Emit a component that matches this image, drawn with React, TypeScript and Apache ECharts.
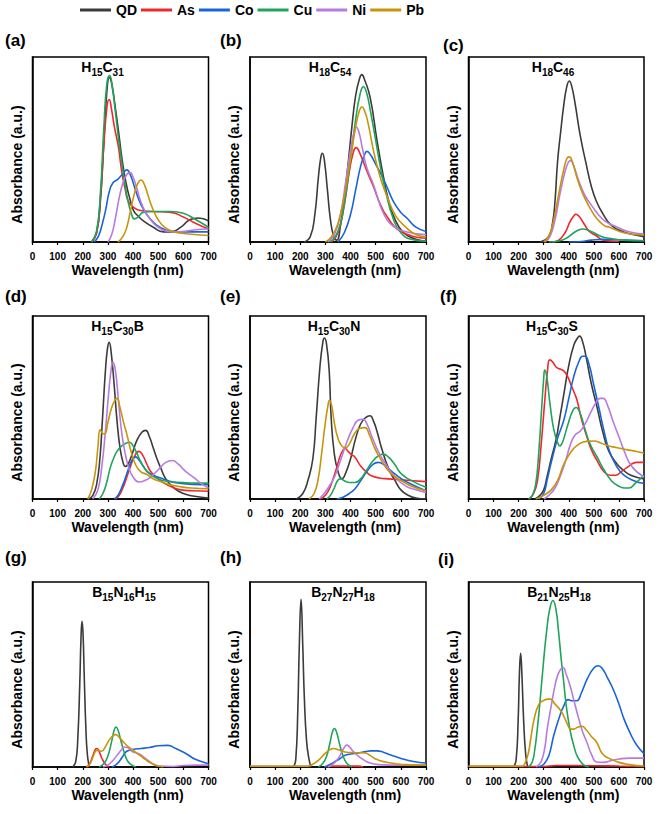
import React, { useEffect, useRef } from 'react';
import * as echarts from 'echarts';

const seriesNames = ['QD', 'As', 'Co', 'Cu', 'Ni', 'Pb'];
const seriesColors = ['#3b3b3b', '#f0282d', '#1a64d8', '#20a35c', '#b77be0', '#c8940b'];
const panelLabels = ['(a)', '(b)', '(c)', '(d)', '(e)', '(f)', '(g)', '(h)', '(i)'];
const panelFormulas = [
  [['H', '15'], ['C', '31']],
  [['H', '18'], ['C', '54']],
  [['H', '18'], ['C', '46']],
  [['H', '15'], ['C', '30'], ['B', '']],
  [['H', '15'], ['C', '30'], ['N', '']],
  [['H', '15'], ['C', '30'], ['S', '']],
  [['B', '15'], ['N', '16'], ['H', '15']],
  [['B', '27'], ['N', '27'], ['H', '18']],
  [['B', '21'], ['N', '25'], ['H', '18']],
];
const xMin = 0;
const xMax = 700;
const xStep = 100;
const xName = 'Wavelength (nm)';
const yName = 'Absorbance (a.u.)';

// ---- (a) H15C31 ----
const aQD = [[235,0],[255,5],[270,22],[283,52],[295,80],[306,89],[316,85],[328,74],[342,60],[356,45],[372,32],[388,23],[402,17],[420,14],[445,11],[480,8],[520,5.5],[550,5.5],[590,8],[625,12],[660,13],[700,11.5]];
const aAs = [[235,0],[255,5],[270,24],[285,55],[297,74],[305,77],[314,72],[326,62],[341,52],[355,38],[368,29],[381,22],[400,19],[430,17],[480,16.5],[550,16],[600,13.5],[650,10],[700,7]];
const aCo = [[245,0],[262,3],[278,10],[292,18],[305,27],[320,32],[340,34],[360,37],[375,39],[390,36],[405,30],[420,24],[440,18],[465,13],[495,9],[530,6.5],[570,5.5],[640,5.5],[700,5.5]];
const aCu = [[235,0],[255,6],[270,26],[283,60],[296,86],[307,90],[318,83],[330,70],[342,56],[356,42],[368,31],[380,22],[392,16],[405,12.5],[420,13.5],[440,16],[480,16.5],[550,16.5],[600,15.5],[650,12],[700,8]];
const aNi = [[300,0],[315,4],[330,13],[345,24],[360,32],[375,36.5],[388,37.5],[400,35],[415,29],[430,22],[450,16],[470,12],[495,8.5],[530,6],[580,5.5],[640,6.5],[700,7]];
const aPb = [[340,0],[360,3],[375,8],[390,17],[405,26],[420,32],[432,33.5],[445,31],[460,25],[478,18],[500,12],[525,8],[560,5.5],[610,4.5],[700,3.5]];

// ---- (b) H18C54 ----
const bQD = [[215,0],[240,3],[258,15],[272,35],[282,46],[288,48],[296,44],[308,28],[320,12],[333,3],[345,1],[360,9],[375,24],[390,42],[405,62],[420,79],[435,88],[445,90.5],[455,88],[478,78],[505,55],[531,35],[550,23],[571,14],[611,5],[660,1.5],[700,0.5]];
const bAs = [[325,0],[350,5],[375,20],[395,38],[410,48],[422,51],[440,47],[460,40],[475,35],[491,30],[510,23],[530,17],[544,14],[570,9],[600,5.7],[650,3],[700,2]];
const bCo = [[350,0],[375,5],[400,15],[420,28],[440,41],[455,47],[465,49],[480,47],[500,42],[520,37],[544,30],[570,22],[600,16],[624,13],[660,8],[700,5.7]];
const bCu = [[319,0],[340,3],[360,10],[380,25],[400,45],[420,66],[438,80],[451,84],[465,80],[480,70],[500,55],[518,41],[540,27],[571,12],[600,5],[640,1.5],[700,0.5]];
const bNi = [[310,0],[335,4],[360,15],[380,32],[400,50],[415,60],[422,62],[432,60],[448,50],[465,40],[491,31],[520,19],[545,12],[571,8.4],[620,5.5],[700,4]];
const bPb = [[300,0],[325,3],[350,10],[375,25],[400,45],[420,62],[435,71],[445,73],[458,70],[470,64],[495,47],[520,34],[544,25],[580,14],[624,7.5],[660,4],[700,2.7]];

// ---- (c) H18C46 ----
const cQD = [[285,0],[320,3],[335,10],[345,22],[355,43],[368,60],[380,74],[392,84],[402,87],[412,84],[425,75],[445,58],[468,43],[490,30],[510,22],[535,15.5],[570,9],[616,5.6],[660,4],[700,2.9]];
const cAs = [[335,0],[360,1],[385,5],[405,11],[420,14],[428,15],[440,14],[460,10],[480,6],[508,3.5],[540,1],[600,0.3]];
const cCo = [[400,0],[450,0.3],[490,1],[535,1.4],[600,1.2],[700,0.7]];
const cCu = [[320,0],[360,0.5],[390,2],[420,5],[440,6.5],[455,7],[475,6.5],[500,5],[530,3],[562,2],[620,1],[700,0.7]];
const cNi = [[305,0],[325,3],[345,12],[365,26],[383,37],[398,43],[408,44],[420,41],[440,33],[465,25],[495,19],[530,13],[560,10],[589,8.3],[640,5.5],[700,4.3]];
const cPb = [[300,0],[320,3],[340,12],[360,26],[378,38],[392,45],[402,46],[415,43],[430,36],[450,28],[470,22],[482,19],[510,13],[540,9],[562,8],[620,5],[700,3.8]];

// ---- (d) H15C30B ----
const dQD = [[222,0],[240,2],[255,8],[268,22],[278,43],[290,70],[298,82],[305,85.6],[313,80],[325,62],[336,43],[348,28],[360,20],[369,17.8],[380,19],[395,24],[415,32],[435,36.5],[450,37.5],[465,34],[480,28],[495,22],[510,17],[530,11],[563,6],[600,3],[644,1.5],[700,0.5]];
const dAs = [[330,0],[345,2],[365,8],[385,16],[405,23],[423,26],[438,24],[455,19],[470,15],[495,11.5],[523,8.7],[555,6.5],[590,5],[640,4.5],[700,4.2]];
const dCo = [[325,0],[340,2],[360,8],[378,15],[395,21],[410,23],[425,21],[440,18],[456,15],[480,13],[510,11.5],[540,10],[577,8.7],[640,8],[700,7.8]];
const dCu = [[265,0],[280,3],[295,9],[309,17],[322,22],[336,26],[355,29],[372,30.5],[386,31],[400,29],[415,25],[430,20.5],[450,16],[470,13.3],[500,11],[537,9.6],[600,9],[644,8.7],[700,8.7]];
const dNi = [[240,0],[260,5],[275,17],[290,37],[303,58],[313,71],[320,74.7],[330,70],[343,52],[356,35],[370,24],[383,17],[400,12],[423,9.3],[445,10],[470,12],[500,16],[530,20],[557,21],[580,19],[610,15],[644,11.5],[670,8.5],[700,6]];
const dPb = [[220,0],[235,5],[250,15],[260,28],[269,37.8],[278,36],[287,35.6],[300,42],[315,50],[328,54],[336,55],[348,50],[362,42],[376,35],[392,26],[410,18.7],[430,15],[456,13.3],[480,11],[510,9.6],[540,8],[577,7],[630,6],[700,5.6]];

// ---- (e) H15C30N ----
const eQD = [[185,0],[210,3],[230,10],[250,22],[263,44],[278,72],[290,86],[296,88],[304,85],[315,70],[323,44],[335,25],[350,15],[366,11],[380,14],[400,22],[420,33],[440,41],[460,44.5],[477,45.5],[490,43],[505,37],[523,28],[550,17],[577,10],[600,5],[630,2],[660,0.5],[700,0]];
const eAs = [[280,0],[300,2],[320,7],[340,15],[360,24],[372,27],[379,27.6],[390,26],[405,24],[417,23],[440,18],[465,14.5],[483,12.7],[515,11.5],[550,11],[600,10.5],[650,10],[700,9.5]];
const eCo = [[345,0],[370,1],[395,3],[417,5.5],[440,10],[465,15],[490,19],[510,20],[530,19],[560,15.5],[603,11],[650,7.5],[700,4.5]];
const eCu = [[305,0],[320,2],[335,6],[348,10],[360,11],[375,10],[395,9],[417,9],[440,11],[465,16],[490,21],[510,23.5],[530,24.5],[550,23],[575,19],[603,13.6],[650,9.5],[700,6.4]];
const eNi = [[275,0],[295,3],[315,7],[336,12],[360,21],[385,31],[410,39],[430,43],[450,43.6],[465,41],[485,34],[510,26],[540,19],[577,12],[620,7],[660,5],[700,3.6]];
const ePb = [[235,0],[255,3],[270,10],[285,25],[298,40],[310,51],[316,54],[325,51],[335,42],[350,33],[365,29],[380,28],[395,30],[415,35.5],[435,38.5],[457,39],[475,35],[495,28],[523,21],[560,14],[603,10],[650,6.5],[700,4.5]];

// ---- (f) H15C30S ----
const fQD = [[265,0],[285,2],[300,5],[313,12],[330,22],[350,33],[365,45],[380,57],[400,73],[420,84],[435,88],[443,89],[455,86],[470,77],[490,63],[513,50],[535,37],[560,26],[593,19],[620,15.5],[647,13],[700,11]];
const fAs = [[240,0],[260,3],[275,10],[290,30],[305,55],[315,70],[324,76],[335,75],[350,72],[365,71],[380,70],[395,67],[410,62],[425,57],[433,54],[450,44],[470,35],[490,27],[513,21],[540,15],[565,13],[587,13],[610,15],[640,18],[670,20],[700,20]];
const fCo = [[280,0],[300,3],[313,10],[330,20],[355,33],[380,43],[400,55],[420,67],[440,75],[455,78],[465,78],[480,74],[500,62],[520,50],[540,37.5],[560,27],[590,18],[620,13],[660,10],[700,8.5]];
const fCu = [[240,0],[255,2],[268,8],[280,25],[292,50],[300,66],[304,70.5],[312,67],[325,52],[340,38],[355,31],[364,29],[375,31],[395,40],[415,48],[429,50],[445,47],[465,38],[485,30],[513,23],[540,16],[570,10],[600,7],[625,6],[640,6],[665,8.5],[700,13]];
const fNi = [[300,0],[320,2],[345,6],[370,14],[390,22],[407,30],[425,35],[445,37],[465,41],[490,48],[510,53],[525,55],[537,55],[555,51],[575,43],[600,34],[620,26.6],[650,18],[700,12]];
const fPb = [[270,0],[300,2],[330,5],[355,10],[380,19],[410,26],[440,30],[470,31.5],[500,31.7],[530,30.5],[560,29],[593,28],[630,27],[670,26],[700,25]];

// ---- (g) B15N16H15 ----
const gQD = [[160,0],[172,3],[180,15],[188,45],[193,70],[197,78.7],[201,72],[206,48],[212,22],[218,7],[226,0]];
const gAs = [[215,0],[228,2],[240,6],[250,9.5],[256,10],[263,9],[275,5],[290,1.5],[305,0]];
const gCo = [[315,0],[330,1],[345,3],[360,6],[375,8.5],[398,9.4],[430,10],[465,10.5],[500,11.5],[538,11.7],[570,10],[611,7.2],[650,4],[700,1.8]];
const gCu = [[265,0],[285,2],[300,6],[315,14],[325,20],[332,21.6],[340,20],[350,15],[362,9],[375,4],[390,1.5],[410,0]];
const gNi = [[280,0],[300,1],[320,3.5],[340,7],[355,9.5],[365,10.8],[378,10.5],[395,8.5],[425,7],[450,4.5],[478,1.8],[500,0.5],[560,0.3],[600,0.8],[650,1],[700,1]];
const gPb = [[215,0],[230,2],[245,7],[255,9],[265,8.8],[275,8.5],[290,11],[305,14.5],[320,17],[330,17.5],[345,16],[365,13],[385,10.5],[400,9],[420,7],[440,5],[465,2.5],[490,1],[520,0]];

// ---- (h) B27N27H18 ----
const hQD = [[173,0],[182,4],[190,30],[196,65],[203,90.6],[210,65],[216,38],[225,14],[235,4],[243,0]];
const hAs = [[300,0],[320,0.5],[430,0.5],[450,0]];
const hCo = [[295,0],[320,1.5],[345,3.5],[365,5.2],[378,6.3],[400,7],[432,7.6],[460,8.3],[480,8.7],[505,8.7],[530,8],[560,6.5],[604,4.5],[650,3],[700,2.2]];
const hCu = [[272,0],[290,2],[305,6],[318,13],[328,19],[336,20.8],[345,18.5],[357,12],[370,6],[385,2],[405,0]];
const hNi = [[310,0],[330,1.5],[350,4.5],[365,8],[375,10.5],[385,11.8],[395,11],[410,8.5],[430,6],[445,4.5],[470,2.5],[511,1.3],[600,1],[700,1]];
const hPb = [[0,0.5],[230,0.5],[250,1.5],[275,4],[300,7.5],[320,9.5],[332,10],[345,9.6],[365,8.7],[385,8],[405,7.8],[430,7.7],[458,7.6],[480,6],[505,4],[538,2.7],[580,1.8],[617,1.3],[700,1]];

// ---- (i) B21N25H18 ----
const iQD = [[180,0],[190,4],[198,25],[203,50],[208,61.5],[213,50],[220,25],[228,7],[236,0]];
const iAs = [[0,0.3],[300,0.3],[350,0.8],[500,0.7],[600,0.5],[700,0.3]];
const iCo = [[280,0],[300,1.5],[320,6],[340,17],[360,26],[380,33],[397,36.4],[415,35.8],[432,35.8],[450,40],[475,48],[500,53.5],[518,54.7],[535,53],[555,48],[577,42],[600,34],[620,26],[643,18.8],[670,12],[700,7.2]];
const iCu = [[240,0],[255,3],[265,10],[274,20],[285,35],[298,55],[312,74],[325,86],[337,90],[349,85],[360,72],[370,58],[379,47],[390,33],[405,20],[419,12],[435,5.5],[458,1.3],[480,0]];
const iNi = [[270,0],[290,3],[305,11],[314,20.6],[330,33],[345,44],[360,51],[377,53.8],[390,50],[405,44],[419,36.7],[440,26],[455,19],[472,13.4],[490,7],[511,2.7],[540,2.5],[570,3.5],[600,4.3],[643,4.8],[700,4.8]];
const iPb = [[0,0.5],[215,0.5],[225,2],[238,7],[248,15],[262,26],[281,34],[300,36],[318,36.7],[327,36.7],[345,34],[365,31],[379,27.8],[395,23],[406,20.6],[420,20.5],[435,21.5],[452,22],[470,20],[490,16.5],[511,13.4],[535,7],[564,4.5],[600,2.5],[643,1.3],[700,0.5]];

const panelData = [
  [aQD, aAs, aCo, aCu, aNi, aPb],
  [bQD, bAs, bCo, bCu, bNi, bPb],
  [cQD, cAs, cCo, cCu, cNi, cPb],
  [dQD, dAs, dCo, dCu, dNi, dPb],
  [eQD, eAs, eCo, eCu, eNi, ePb],
  [fQD, fAs, fCo, fCu, fNi, fPb],
  [gQD, gAs, gCo, gCu, gNi, gPb],
  [hQD, hAs, hCo, hCu, hNi, hPb],
  [iQD, iAs, iCo, iCu, iNi, iPb],
];

// ---- layout ----
const colLeft = [32.5, 250, 468.5];
const colWidth = [176, 176, 175.5];
const rowTop = [57, 316, 582];
const rowHeight = [185, 183, 185];
const titleCenterX = [102.5, 330, 553, 117.5, 334, 552, 124, 343, 559];
const labelPos = [[5, 40], [220, 40], [443, 45], [5, 296], [220, 296], [440, 296], [5, 557], [220, 557], [438, 559]];
const FONT = 'Arial, "Liberation Sans", Helvetica, sans-serif';

export default function App() {
  const ref = useRef<HTMLDivElement>(null);
  useEffect(() => {
    if (!ref.current) return;
    const chart = echarts.init(ref.current, undefined, { renderer: 'svg' });
    const grids: any[] = [];
    const xAxes: any[] = [];
    const yAxes: any[] = [];
    const series: any[] = [];
    const graphics: any[] = [];
    for (let p = 0; p < 9; p++) {
      const r = Math.floor(p / 3);
      const c = p % 3;
      const left = colLeft[c];
      const top = rowTop[r];
      const w = colWidth[c];
      const h = rowHeight[r];
      grids.push({ left, top, width: w, height: h, show: true, borderColor: '#000', borderWidth: 1.5, backgroundColor: 'transparent' });
      xAxes.push({
        type: 'value', gridIndex: p, min: xMin, max: xMax, interval: xStep,
        axisLine: { show: true, onZero: false, lineStyle: { color: '#000', width: 1.5 } },
        axisTick: { show: true, inside: false, length: 3, lineStyle: { color: '#000', width: 1.2 } },
        axisLabel: { show: true, margin: 9, color: '#000', fontSize: 10, fontWeight: 'bold', fontFamily: FONT, showMinLabel: true, showMaxLabel: true },
        splitLine: { show: false },
      });
      yAxes.push({
        type: 'value', gridIndex: p, min: 0, max: 100,
        axisLine: { show: true, lineStyle: { color: '#000', width: 1.5 } },
        axisTick: { show: false }, axisLabel: { show: false }, splitLine: { show: false },
      });
      panelData[p].forEach((d, k) => {
        series.push({
          type: 'line', name: seriesNames[k], xAxisIndex: p, yAxisIndex: p, data: d,
          showSymbol: false, symbol: 'none', smooth: 0.5,
          lineStyle: { color: seriesColors[k], width: 1.6 }, itemStyle: { color: seriesColors[k] },
          emphasis: { disabled: true }, z: 2 + k,
        });
      });
      graphics.push({
        type: 'text', x: labelPos[p][0], y: labelPos[p][1],
        style: { text: panelLabels[p], font: `bold 17px ${FONT}`, fill: '#000', textAlign: 'left', textVerticalAlign: 'middle', align: 'left', verticalAlign: 'middle' },
      });
      const rich = panelFormulas[p].map(([el, n]) => `{m|${el}}` + (n ? `{s|${n}}` : '')).join('');
      graphics.push({
        type: 'text', x: titleCenterX[p], y: top + 10,
        style: {
          text: rich, fill: '#000', textAlign: 'center', textVerticalAlign: 'middle', align: 'center', verticalAlign: 'middle',
          rich: {
            m: { fontSize: 14, fontWeight: 'bold', fontFamily: FONT, fill: '#000', color: '#000' },
            s: { fontSize: 10, fontWeight: 'bold', fontFamily: FONT, fill: '#000', color: '#000', padding: [10, 0, 0, 0] },
          },
        },
      });
      graphics.push({
        type: 'text', x: left - 16, y: top + h / 2 + 15, rotation: Math.PI / 2,
        style: { text: yName, font: `bold 14px ${FONT}`, fill: '#000', textAlign: 'center', textVerticalAlign: 'middle', align: 'center', verticalAlign: 'middle' },
      });
      graphics.push({
        type: 'text', x: left + w / 2 + 7, y: top + h + 28,
        style: { text: xName, font: `bold 14px ${FONT}`, fill: '#000', textAlign: 'center', textVerticalAlign: 'middle', align: 'center', verticalAlign: 'middle' },
      });
    }
    chart.setOption({
      animation: false,
      backgroundColor: '#fff',
      legend: {
        data: seriesNames, left: 75, top: -2, icon: 'rect', itemWidth: 31, itemHeight: 3, itemGap: 4,
        textStyle: { fontSize: 14, fontWeight: 'bold', color: '#000', fontFamily: FONT },
        selectedMode: false,
      },
      grid: grids,
      xAxis: xAxes,
      yAxis: yAxes,
      series,
      graphic: graphics,
    });
    return () => chart.dispose();
  }, []);
  return <div ref={ref} style={{ position: 'absolute', left: 0, top: 0, width: 661, height: 814 }} />;
}
